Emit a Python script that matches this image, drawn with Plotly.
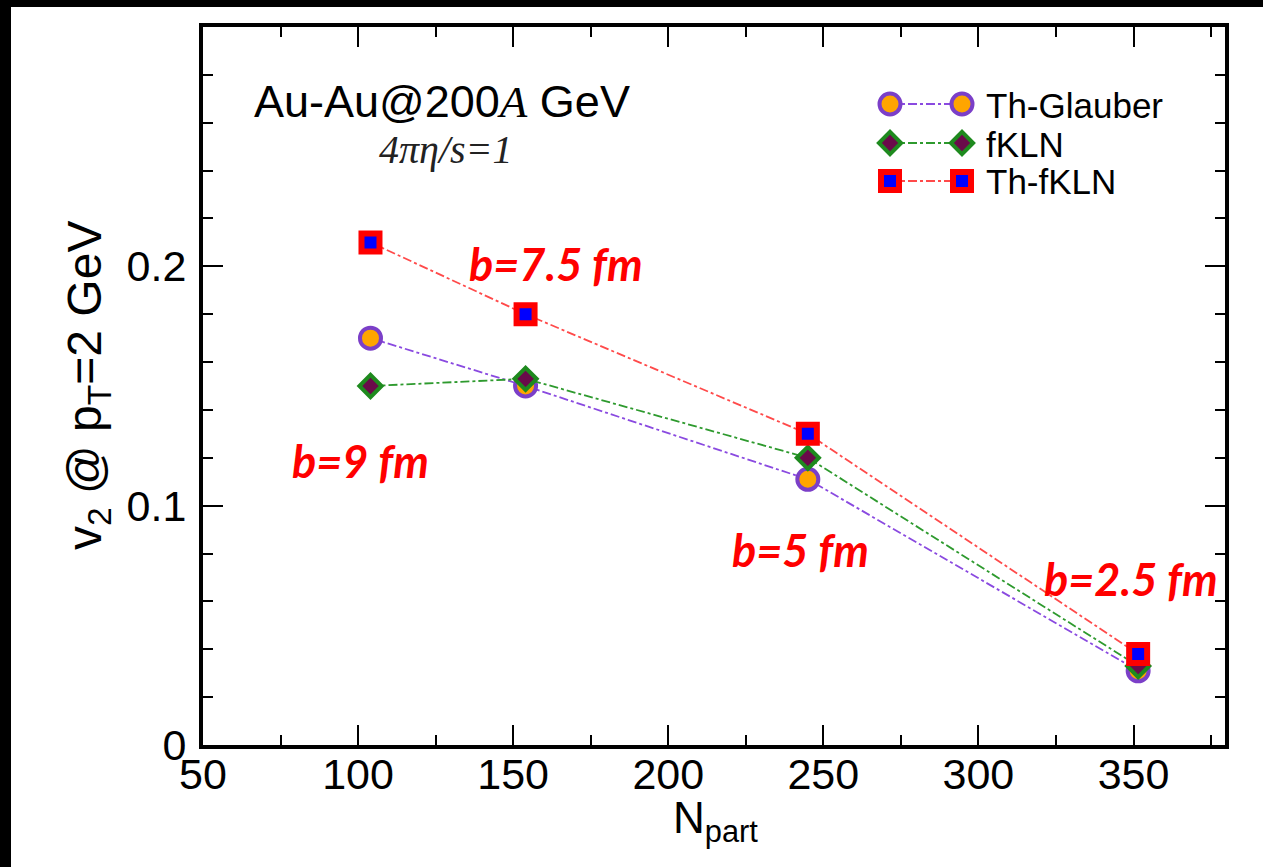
import plotly.graph_objects as go

# Participant number for the four impact parameters
npart = [104, 154, 245, 351.5]

# v2 at pT = 2 GeV for the three initial-condition models
v2_glauber = [0.170, 0.150, 0.111, 0.031]
v2_fkln = [0.150, 0.153, 0.120, 0.033]
v2_thfkln = [0.210, 0.180, 0.130, 0.038]

series_names = ["Th-Glauber", "fKLN", "Th-fKLN"]

# impact-parameter labels
b_labels = ["b=9 fm", "b=7.5 fm", "b=5 fm", "b=2.5 fm"]

x_ticks = [50, 100, 150, 200, 250, 300, 350]
y_ticks = [0, 0.1, 0.2]
y_tick_text = ["0", "0.1", "0.2"]

# ---- page geometry (pixels) ----
W, H = 1263, 867
PL, PR, PT, PB = 203, 1225, 27, 745


def px_x(x):
    return (x - PL) / (PR - PL)


def px_y(y):
    return (PB - y) / (PB - PT)


SANS = "Liberation Sans"
SERIF = "Liberation Serif"

styles = {
    "Th-Glauber": dict(
        marker=dict(symbol="circle", size=21, color="#ffa500",
                    line=dict(color="#7b3fc8", width=4)),
        line=dict(color="#8a4ae0", width=1.8, dash="dashdot"),
    ),
    "fKLN": dict(
        marker=dict(symbol="diamond", size=17, color="#6a0a4a",
                    line=dict(color="#1e8a1e", width=4)),
        line=dict(color="#2e9a2e", width=1.8, dash="dashdot"),
    ),
    "Th-fKLN": dict(
        marker=dict(symbol="square", size=18, color="#0000ff",
                    line=dict(color="#ff0000", width=6)),
        line=dict(color="#ff4a4a", width=1.8, dash="dashdot"),
    ),
}

fig = go.Figure()

for name, ys in zip(series_names, [v2_glauber, v2_fkln, v2_thfkln]):
    fig.add_trace(go.Scatter(
        x=npart, y=ys, mode="lines+markers", name=name,
        showlegend=False, cliponaxis=False, **styles[name],
    ))

# hand-drawn legend: marker - dash-dot line - marker, on a pixel overlay axis
leg_x0, leg_x1 = 890, 962
leg_rows = [104, 143, 181]
for name, ly in zip(series_names, leg_rows):
    fig.add_trace(go.Scatter(
        x=[leg_x0, leg_x1], y=[ly, ly], mode="lines+markers",
        xaxis="x2", yaxis="y2", showlegend=False, hoverinfo="skip",
        cliponaxis=False, **styles[name],
    ))

annotations = []
for name, ly in zip(series_names, leg_rows):
    annotations.append(dict(
        x=px_x(984), y=px_y(ly + 1), xref="paper", yref="paper",
        text=name, showarrow=False, xanchor="left", yanchor="middle",
        font=dict(family=SANS, size=35, color="black"),
    ))

annotations.append(dict(
    x=px_x(252), y=px_y(101), xref="paper", yref="paper",
    text="Au-Au@200<span style=\"font-family:'Liberation Serif'\"><i>A</i></span> GeV",
    showarrow=False, xanchor="left", yanchor="middle",
    font=dict(family=SANS, size=45, color="black"),
))
annotations.append(dict(
    x=px_x(446), y=px_y(150), xref="paper", yref="paper",
    text="<i>4πη/s=1</i>", showarrow=False, xanchor="center", yanchor="middle",
    font=dict(family=SERIF, size=40, color="#222222"),
))

# impact-parameter labels (red, bold italic)
b_pos = [(360, 461), (556, 264), (800, 550), (1131, 579)]
for txt, (bx, by) in zip(b_labels, b_pos):
    annotations.append(dict(
        x=px_x(bx), y=px_y(by), xref="paper", yref="paper",
        text=txt, showarrow=False, xanchor="center", yanchor="middle",
        font=dict(family="Lato", size=45, color="#ff0000",
                  style="italic", weight="bold"),
    ))

# axis titles
annotations.append(dict(
    x=px_x(715), y=px_y(821), xref="paper", yref="paper",
    text="N<sub>part</sub>", showarrow=False, xanchor="center", yanchor="middle",
    font=dict(family=SANS, size=44, color="black"),
))
annotations.append(dict(
    x=px_x(88), y=px_y(386), xref="paper", yref="paper",
    text="v<sub>2</sub> @ p<sub>T</sub>=2 GeV", showarrow=False,
    xanchor="center", yanchor="middle", textangle=-90,
    font=dict(family=SANS, size=48, color="black"),
))

# black strips along the top and left of the page
shapes = [
    dict(type="rect", xref="paper", yref="paper",
         x0=px_x(0), x1=px_x(W), y0=px_y(0), y1=px_y(7),
         fillcolor="black", line=dict(width=0), layer="above"),
    dict(type="rect", xref="paper", yref="paper",
         x0=px_x(0), x1=px_x(11), y0=px_y(0), y1=px_y(H),
         fillcolor="black", line=dict(width=0), layer="above"),
]

axis_common = dict(
    showline=True, linecolor="black", linewidth=4, mirror="allticks",
    ticks="inside", ticklen=20, tickwidth=2, tickcolor="black",
    showgrid=False, zeroline=False,
    tickfont=dict(family=SANS, size=43, color="black"),
)

fig.update_layout(
    width=W, height=H,
    margin=dict(l=PL, r=W - PR, t=PT, b=H - PB, pad=0),
    paper_bgcolor="white", plot_bgcolor="white",
    showlegend=False,
    xaxis=dict(
        range=[50, 379.5], tickvals=x_ticks,
        minor=dict(dtick=25, tick0=50, ticklen=10, tickwidth=2,
                   tickcolor="black", ticks="inside", showgrid=False),
        ticklabelstandoff=-12,
        **axis_common,
    ),
    yaxis=dict(
        range=[0, 0.3], tickvals=y_ticks, ticktext=y_tick_text,
        minor=dict(dtick=0.02, tick0=0, ticklen=10, tickwidth=2,
                   tickcolor="black", ticks="inside", showgrid=False),
        ticklabelstandoff=4,
        **axis_common,
    ),
    xaxis2=dict(range=[PL, PR], overlaying="x", visible=False),
    yaxis2=dict(range=[PB, PT], overlaying="y", visible=False),
    annotations=annotations,
    shapes=shapes,
)

fig.write_html("out.html")
